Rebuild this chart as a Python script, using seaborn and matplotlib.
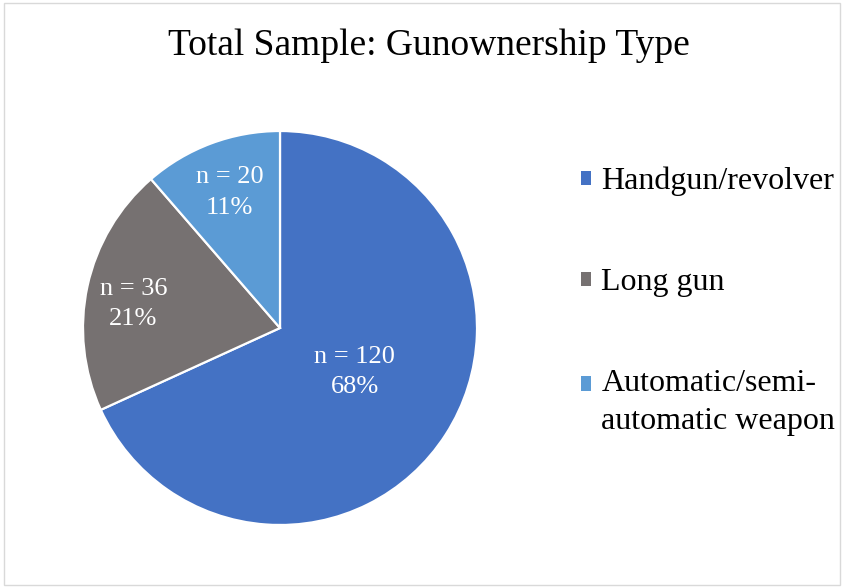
import numpy as np
import matplotlib
matplotlib.use("Agg")
import matplotlib.pyplot as plt
from matplotlib.patches import Patch, Rectangle
from matplotlib.legend_handler import HandlerPatch
import seaborn as sns

# Survey counts by type of gun owned
categories = ["Handgun/revolver", "Long gun", "Automatic/semi-\nautomatic weapon"]
counts = [120, 36, 20]
pct_labels = ["68%", "21%", "11%"]
title = "Total Sample: Gunownership Type"

sns.set_theme(style="white")
plt.rcParams["font.family"] = ["Liberation Serif", "DejaVu Serif"]

colors = sns.color_palette(["#4472C4", "#767171", "#5B9BD5"])

W, H = 843, 587
fig = plt.figure(figsize=(W / 100, H / 100), dpi=100)
fig.patch.set_facecolor("white")

# Thin chart-area border
fig.add_artist(Rectangle((4 / W, 2 / H), (W - 7) / W, (H - 5) / H,
                         transform=fig.transFigure, fill=False,
                         edgecolor="#D9D9D9", linewidth=1.0))

cx, cy, r = 280, 328, 197
ax = fig.add_axes([(cx - r) / W, (H - cy - r) / H, 2 * r / W, 2 * r / H])
wedges, _ = ax.pie(counts, colors=colors, startangle=90, counterclock=False,
                   radius=1.0,
                   wedgeprops=dict(edgecolor="white", linewidth=1.6))
ax.set_xlim(-1, 1)
ax.set_ylim(-1, 1)
ax.set_aspect("equal")
ax.axis("off")

# Data labels inside each slice (radius and small angular nudge per slice)
label_r = [0.44, 0.754, 0.735]
label_dtheta = [2.4, 2.9, 0.0]
for w, n, p, lr, dt in zip(wedges, counts, pct_labels, label_r, label_dtheta):
    mid = np.deg2rad((w.theta1 + w.theta2) / 2 + dt)
    ax.text(lr * np.cos(mid), lr * np.sin(mid), f"n = {n}\n{p}",
            ha="center", va="center", color="white", fontsize=19,
            linespacing=1.5)

fig.text(429 / W, 1 - 46 / H, title, ha="center", va="center",
         fontsize=27, color="black")


def first_line_square(legend, orig_handle, xdescent, ydescent, width, height,
                      fontsize):
    # keep the key square level with the first line of a two-line label
    return Rectangle((-xdescent, -ydescent + 13.3), width, height)


handles = [Patch(facecolor=c, edgecolor="none") for c in colors]
leg = fig.legend(handles, categories, loc="upper left",
                 bbox_to_anchor=(581 / W, 1 - 167 / H), frameon=False,
                 fontsize=23, labelspacing=2.25, handlelength=0.32,
                 handleheight=0.32, handletextpad=0.32, borderaxespad=0,
                 borderpad=0, labelcolor="black",
                 handler_map={handles[2]: HandlerPatch(patch_func=first_line_square)})
for t in leg.get_texts():
    t.set_linespacing(1.4)

fig.savefig("out.png", dpi=100, facecolor="white")
